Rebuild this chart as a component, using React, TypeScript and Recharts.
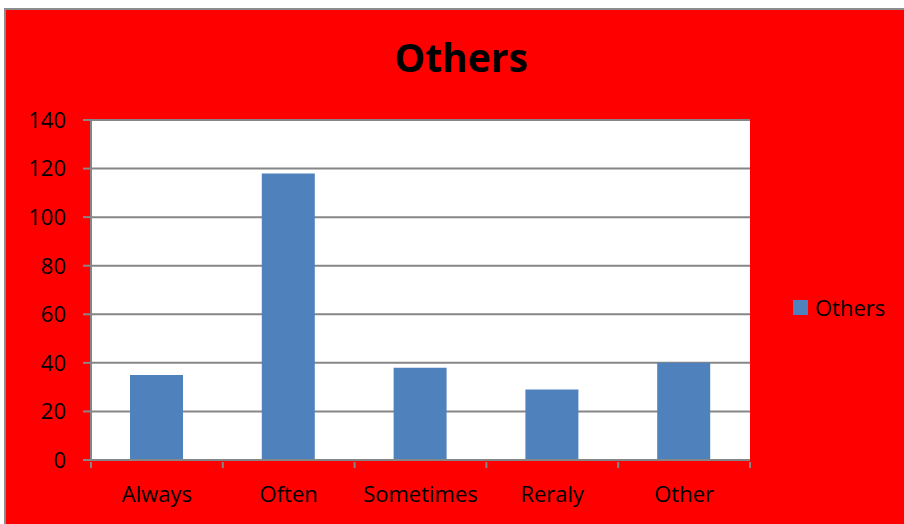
import React from 'react';
import { BarChart, Bar, XAxis, YAxis, CartesianGrid } from 'recharts';

const categories = ['Always', 'Often', 'Sometimes', 'Reraly', 'Other'];
const othersValues = [35, 118, 38, 29, 40];
const yTicks = [0, 20, 40, 60, 80, 100, 120, 140];

const data = categories.map((name, i) => ({ name, Others: othersValues[i] }));

const FONT = '"Open Sans", "DejaVu Sans", sans-serif';
const BAR_BLUE = '#4F81BD';
const AXIS_GREY = '#868686';
const PLOT_W = 659;
const BAND = PLOT_W / categories.length;

function CategoryTick(props: any) {
  const { x, y, payload, index } = props;
  const left = x - BAND / 2;
  return (
    <g>
      <line x1={left} y1={y - 6} x2={left} y2={y} stroke={AXIS_GREY} strokeWidth={2} />
      {index === categories.length - 1 && (
        <line x1={x + BAND / 2} y1={y - 6} x2={x + BAND / 2} y2={y} stroke={AXIS_GREY} strokeWidth={2} />
      )}
      <text x={x} y={y + 34} textAnchor="middle" fill="#000" fontSize={22} fontFamily={FONT}>
        {payload.value}
      </text>
    </g>
  );
}

export default function App() {
  return (
    <div style={{ position: 'absolute', left: 0, top: 0, width: 904, height: 524, overflow: 'hidden', background: '#fff' }}>
      <div
        style={{
          position: 'absolute',
          left: 4,
          top: 8,
          width: 910,
          height: 530,
          background: '#FF0000',
          borderLeft: '2px solid #8c8c8c',
          borderTop: '2px solid #8c8c8c',
        }}
      />
      <div
        style={{
          position: 'absolute',
          left: 0,
          width: 922,
          top: 30,
          textAlign: 'center',
          fontFamily: FONT,
          fontWeight: 'bold',
          fontSize: 39,
          color: '#000',
        }}
      >
        Others
      </div>
      <div style={{ position: 'absolute', left: 0, top: 0 }}>
        <BarChart
          width={904}
          height={524}
          data={data}
          margin={{ top: 120, right: 154, left: 0, bottom: 0 }}
          barSize={53}
        >
          <CartesianGrid vertical={false} fill="#fff" stroke={AXIS_GREY} strokeWidth={2} />
          <XAxis
            dataKey="name"
            height={64}
            axisLine={{ stroke: AXIS_GREY, strokeWidth: 2 }}
            tickLine={false}
            tick={<CategoryTick />}
            interval={0}
          />
          <YAxis
            width={91}
            domain={[0, 140]}
            ticks={yTicks}
            interval={0}
            axisLine={{ stroke: AXIS_GREY, strokeWidth: 2 }}
            tickLine={{ stroke: AXIS_GREY, strokeWidth: 2 }}
            tickSize={8}
            tickMargin={17}
            tick={{ fill: '#000', fontSize: 22, fontFamily: FONT }}
          />
          <Bar dataKey="Others" fill={BAR_BLUE} isAnimationActive={false} />
        </BarChart>
      </div>
      <div
        style={{
          position: 'absolute',
          left: 793,
          top: 292,
          display: 'flex',
          alignItems: 'center',
          fontFamily: FONT,
          fontSize: 22,
          color: '#000',
        }}
      >
        <span style={{ width: 15, height: 15, background: BAR_BLUE, display: 'inline-block', marginRight: 7 }} />
        Others
      </div>
    </div>
  );
}
